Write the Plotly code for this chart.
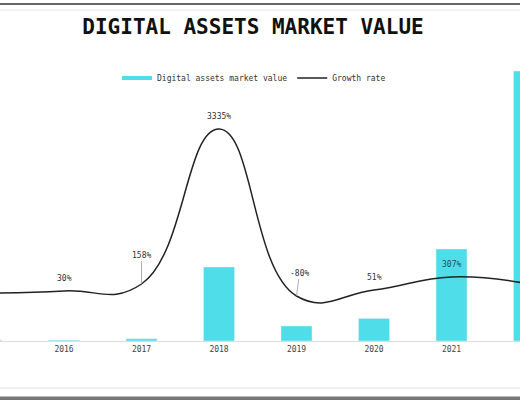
import plotly.graph_objects as go

years = ["2015", "2016", "2017", "2018", "2019", "2020", "2021", "2022"]
market_value = [0.66, 0.86, 2.2, 74, 15, 22.5, 92, 270]
growth_curve = [48, 50, 57, 212, 45, 51, 64, 57]
growth_labels = ["", "30%", "158%", "3335%", "-80%", "51%", "307%", "194%"]

cyan = "#4edde9"
mono = "DejaVu Sans Mono"

# the original is a crop: the chart runs a little past the right edge of the window
W = 540

fig = go.Figure()

fig.add_trace(go.Bar(x=years, y=market_value, marker_color=cyan, width=0.4,
                     showlegend=False))
# legend stand-in for bars (thick short line like the original)
fig.add_trace(go.Scatter(x=[None], y=[None], mode="lines", name="Digital assets market value",
                         line=dict(color=cyan, width=4)))
fig.add_trace(go.Scatter(x=years, y=growth_curve, mode="lines", name="Growth rate", yaxis="y2",
                         line=dict(color="#222", width=1.5, shape="spline", smoothing=1.3)))

leaders = {"158%": (0, -29), "-80%": (3, -23)}
for i, (val, lab) in enumerate(zip(growth_curve, growth_labels)):
    if not lab:
        continue
    if lab in leaders:
        ax, ay = leaders[lab]
        fig.add_annotation(x=i, y=val, yref="y2", text=lab, showarrow=True, arrowhead=0,
                           arrowwidth=0.8, arrowcolor="#999", ax=ax, ay=ay, standoff=0,
                           font=dict(family=mono, size=8, color="#333"))
    else:
        fig.add_annotation(x=i, y=val, yref="y2", text=lab, showarrow=False, yshift=13,
                           font=dict(family=mono, size=8,
                                     color="#1f4f5a" if lab == "307%" else "#333"))

# frame lines of the screenshot
for y0, col, w in [(1.123, "#666", 2), (1.103, "#e6e6e6", 1), (-0.157, "#e0e0e0", 1), (-0.195, "#777", 6)]:
    fig.add_shape(type="line", xref="paper", yref="paper", x0=0, x1=1, y0=y0, y1=y0,
                  line=dict(color=col, width=w))

fig.update_layout(
    width=W, height=400,
    margin=dict(l=0, r=0, t=41, b=59),
    paper_bgcolor="white", plot_bgcolor="white",
    title=dict(text="<b>DIGITAL ASSETS MARKET VALUE</b>", x=253 / W, xanchor="center",
               y=0.9325, yanchor="middle", font=dict(family=mono, size=21, color="#111")),
    legend=dict(orientation="h", x=254 / W, xanchor="center", y=0.877, yanchor="middle",
                font=dict(family=mono, size=8, color="#333"), itemwidth=30,
                bgcolor="rgba(0,0,0,0)"),
    xaxis=dict(type="category", range=[0.174, 0.174 + W / 77.5], showgrid=False, showline=True,
               linecolor="#ddd", linewidth=1, ticks="",
               tickfont=dict(family=mono, size=8, color="#444")),
    yaxis=dict(range=[0, 300], visible=False),
    yaxis2=dict(range=[0, 300], overlaying="y", visible=False),
    bargap=0.6,
    hovermode=False,
)

fig.write_html("out.html", config={"displayModeBar": False},
               post_script="document.documentElement.style.overflow='hidden';"
                           "document.body.style.margin='0';document.body.style.overflow='hidden';")
